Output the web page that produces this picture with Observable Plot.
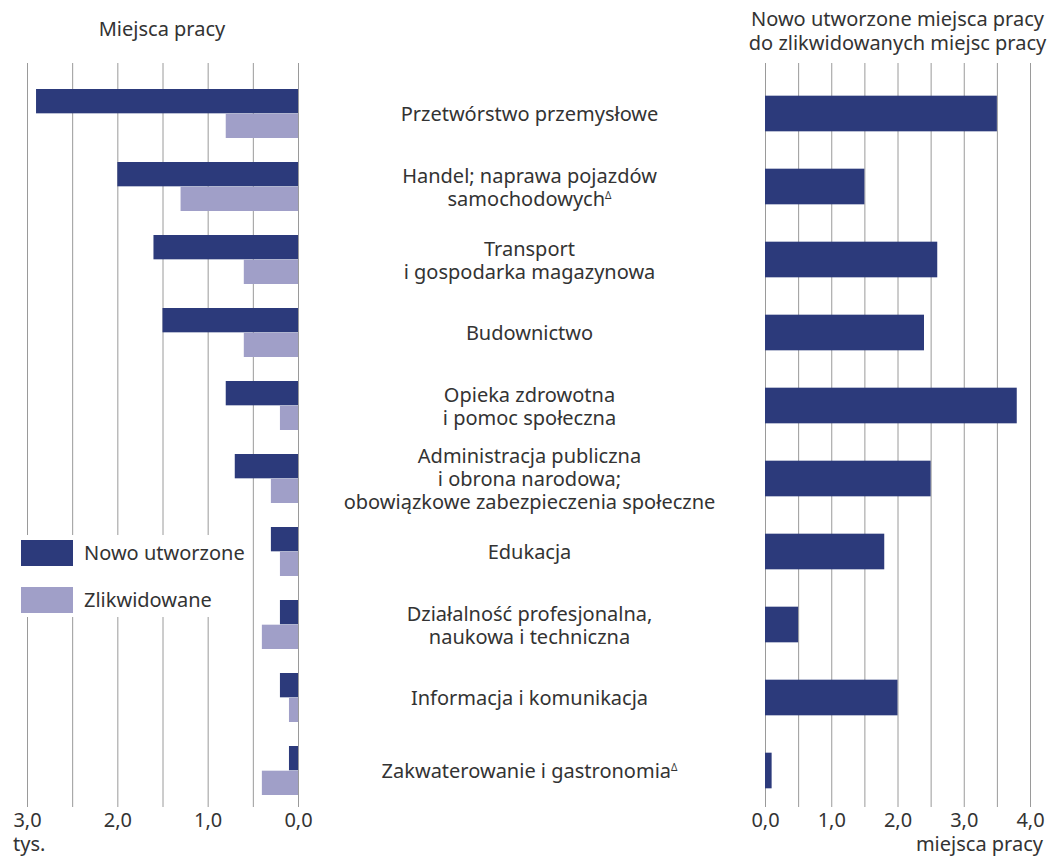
<!DOCTYPE html>
<html><head><meta charset="utf-8">
<script src="https://cdn.jsdelivr.net/npm/d3@7"></script>
<script src="https://cdn.jsdelivr.net/npm/@observablehq/plot@0.6"></script>
<style>
body{margin:0;background:#fff;font-family:"Noto Sans",sans-serif;color:#333}
#wrap{position:relative;width:1051px;height:856px;overflow:hidden;background:#fff}
.abs{position:absolute;white-space:nowrap;font-size:20px;color:#333}
svg{overflow:visible}
</style></head><body><div id="wrap"></div>
<script>
const categories = [
  "Przetwórstwo przemysłowe",
  "Handel; naprawa pojazdów\nsamochodowychΔ",
  "Transport\ni gospodarka magazynowa",
  "Budownictwo",
  "Opieka zdrowotna\ni pomoc społeczna",
  "Administracja publiczna\ni obrona narodowa;\nobowiązkowe zabezpieczenia społeczne",
  "Edukacja",
  "Działalność profesjonalna,\nnaukowa i techniczna",
  "Informacja i komunikacja",
  "Zakwaterowanie i gastronomiaΔ"
];
const nowo = [2.9, 2.0, 1.6, 1.5, 0.8, 0.7, 0.3, 0.2, 0.2, 0.1];
const zlik = [0.8, 1.3, 0.6, 0.6, 0.2, 0.3, 0.2, 0.4, 0.1, 0.4];
const ratio = [3.5, 1.5, 2.6, 2.4, 3.8, 2.5, 1.8, 0.5, 2.0, 0.1];
const seriesNames = ["Nowo utworzone", "Zlikwidowane"];
const seriesColors = ["#2c3a7b", "#a09fc8"];
const leftTicks = [0, 1, 2, 3];
const leftGrid = [0, 0.5, 1, 1.5, 2, 2.5, 3];
const rightTicks = [0, 1, 2, 3, 4];
const rightGrid = [0, 0.5, 1, 1.5, 2, 2.5, 3, 3.5, 4];
const leftTitle = "Miejsca pracy";
const rightTitle = ["Nowo utworzone miejsca pracy", "do zlikwidowanych miejsc pracy"];
const leftUnit = "tys.";
const rightUnit = "miejsca pracy";

const rows = categories.map((c, i) => ({category: c, nowo: nowo[i], zlik: zlik[i], ratio: ratio[i]}));
const H = 856, MT = 63, MB = 49;
const yScale = {type: "band", domain: categories, range: [73.2, 809.8], paddingInner: 0.33, paddingOuter: 0.165, axis: null};
const bw = (809.8 - 73.2) / 10 * 0.67;
const fmt = d => d.toFixed(1).replace(".", ",");
const grid = "#9a9a9a";
const fontSize = 20;
const FF = "Noto Sans";

const wrap = document.getElementById("wrap");
function place(el, left, top) {
  el.style.position = "absolute"; el.style.left = left + "px"; el.style.top = top + "px";
  wrap.appendChild(el);
}

// Left plot
const leftPlot = Plot.plot({
  width: 340, height: H, marginTop: MT, marginBottom: MB, marginLeft: 27, marginRight: 42,
  style: {fontFamily: FF, fontSize: fontSize + "px", color: "#333", background: "transparent"},
  x: {domain: [0, 3], reverse: true, axis: null},
  y: yScale,
  marks: [
    Plot.ruleX(leftGrid, {stroke: grid, strokeWidth: 1}),
    Plot.barX(rows, {y: "category", x1: 0, x2: "nowo", fill: seriesColors[0], insetBottom: bw / 2}),
    Plot.barX(rows, {y: "category", x1: 0, x2: "zlik", fill: seriesColors[1], insetTop: bw / 2}),
    Plot.axisX(leftTicks, {anchor: "bottom", label: null, tickSize: 0, tickPadding: 5, tickFormat: fmt, fill: "#333", fontSize: fontSize})
  ]
});
place(leftPlot, 0, 0);

// Middle labels
const midPlot = Plot.plot({
  width: 398, height: H, marginTop: MT, marginBottom: MB, marginLeft: 0, marginRight: 0,
  style: {fontFamily: FF, fontSize: fontSize + "px", color: "#333", background: "transparent"},
  y: yScale,
  marks: [
    Plot.text(rows, {y: "category", text: "category", fill: "#333", fontSize: fontSize, lineHeight: 1.15})
  ]
});
place(midPlot, 330, 0);

// Right plot
const rightPlot = Plot.plot({
  width: 351, height: H, marginTop: MT, marginBottom: MB, marginLeft: 65, marginRight: 21,
  style: {fontFamily: FF, fontSize: fontSize + "px", color: "#333", background: "transparent"},
  x: {domain: [0, 4], axis: null},
  y: yScale,
  marks: [
    Plot.ruleX(rightGrid, {stroke: grid, strokeWidth: 1}),
    Plot.barX(rows, {y: "category", x1: 0, x2: "ratio", fill: seriesColors[0], insetTop: (bw - 36) / 2, insetBottom: (bw - 36) / 2}),
    Plot.axisX(rightTicks, {anchor: "bottom", label: null, tickSize: 0, tickPadding: 5, tickFormat: fmt, fill: "#333", fontSize: fontSize})
  ]
});
place(rightPlot, 700, 0);

// superscript delta
wrap.querySelectorAll("svg").forEach(svg => {
  const walker = document.createTreeWalker(svg, NodeFilter.SHOW_TEXT);
  const nodes = [];
  while (walker.nextNode()) if (walker.currentNode.nodeValue.includes("Δ")) nodes.push(walker.currentNode);
  nodes.forEach(n => {
    const parts = n.nodeValue.split("Δ");
    n.nodeValue = parts[0];
    const ts = document.createElementNS("http://www.w3.org/2000/svg", "tspan");
    ts.setAttribute("baseline-shift", "super");
    ts.setAttribute("font-size", "10");
    ts.textContent = "Δ";
    n.parentNode.insertBefore(ts, n.nextSibling);
  });
});

// Titles
const t1 = document.createElement("div"); t1.className = "abs"; t1.textContent = leftTitle;
t1.style.width = "340px"; t1.style.textAlign = "center"; t1.style.lineHeight = "24px";
place(t1, -8, 17);
const t2 = document.createElement("div"); t2.className = "abs"; t2.innerHTML = rightTitle.join("<br>");
t2.style.width = "351px"; t2.style.textAlign = "center"; t2.style.lineHeight = "24px";
place(t2, 722, 7);

// Units
const u1 = document.createElement("div"); u1.className = "abs"; u1.textContent = leftUnit; u1.style.lineHeight = "20px";
place(u1, 13, 834);
const u2 = document.createElement("div"); u2.className = "abs"; u2.textContent = rightUnit; u2.style.lineHeight = "20px";
u2.style.width = "300px"; u2.style.textAlign = "right";
place(u2, 743, 834);

// Legend
const lg = document.createElement("div");
lg.style.background = "#fff"; lg.style.width = "236px"; lg.style.height = "82px"; lg.style.zIndex = 5;
seriesNames.forEach((s, i) => {
  const sw = document.createElement("div");
  sw.style.cssText = `position:absolute;left:9px;top:${5 + i * 47}px;width:52px;height:26px;background:${seriesColors[i]}`;
  lg.appendChild(sw);
  const tx = document.createElement("div"); tx.className = "abs"; tx.textContent = s;
  tx.style.left = "72px"; tx.style.top = (5 + i * 47) + "px"; tx.style.lineHeight = "26px";
  lg.appendChild(tx);
});
place(lg, 12, 535);
</script></body></html>
